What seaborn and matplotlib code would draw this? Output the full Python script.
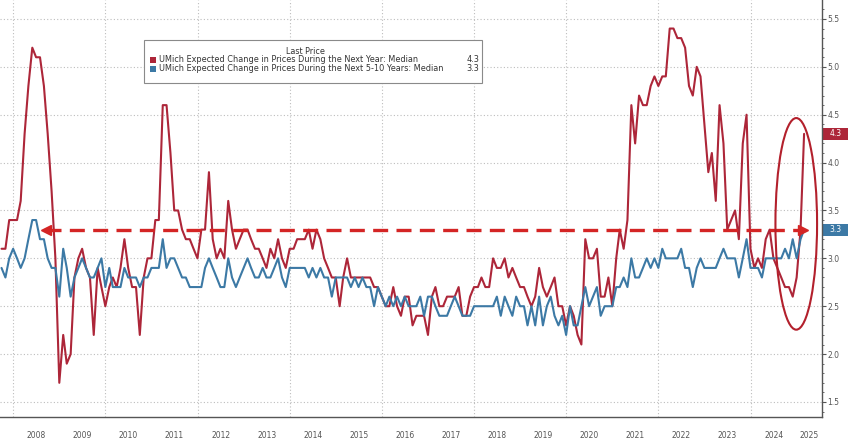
import numpy as np
import pandas as pd
import seaborn as sns
import matplotlib.pyplot as plt
from matplotlib.patches import Ellipse, Rectangle
from matplotlib.ticker import MultipleLocator, FormatStrFormatter
from matplotlib.transforms import blended_transform_factory
import matplotlib.dates as mdates

# UMich median expected price change, monthly, Sep 2007 - Feb 2025 (%)
one_year = [
    3.1, 3.1, 3.4, 3.4,
    3.4, 3.6, 4.3, 4.8, 5.2, 5.1, 5.1, 4.8, 4.3, 3.7, 3.0, 1.7,  # 2008
    2.2, 1.9, 2.0, 2.8, 3.0, 3.1, 2.9, 2.8, 2.2, 2.9, 2.7, 2.5,  # 2009
    2.7, 2.8, 2.7, 2.9, 3.2, 2.9, 2.7, 2.7, 2.2, 2.8, 3.0, 3.0,  # 2010
    3.4, 3.4, 4.6, 4.6, 4.1, 3.5, 3.5, 3.3, 3.2, 3.2, 3.1, 3.0,  # 2011
    3.3, 3.3, 3.9, 3.2, 3.0, 3.1, 3.0, 3.6, 3.3, 3.1, 3.2, 3.3,  # 2012
    3.3, 3.2, 3.1, 3.1, 3.0, 2.9, 3.1, 3.0, 3.2, 3.0, 2.9, 3.1,  # 2013
    3.1, 3.2, 3.2, 3.2, 3.3, 3.1, 3.3, 3.2, 3.0, 2.9, 2.8, 2.8,  # 2014
    2.5, 2.8, 3.0, 2.8, 2.8, 2.8, 2.8, 2.8, 2.8, 2.7, 2.7, 2.6,  # 2015
    2.5, 2.5, 2.7, 2.5, 2.4, 2.6, 2.6, 2.3, 2.4, 2.4, 2.4, 2.2,  # 2016
    2.6, 2.7, 2.5, 2.5, 2.6, 2.6, 2.6, 2.7, 2.4, 2.4, 2.6, 2.7,  # 2017
    2.7, 2.8, 2.7, 2.7, 3.0, 2.9, 2.9, 3.0, 2.8, 2.9, 2.8, 2.7,  # 2018
    2.7, 2.6, 2.5, 2.6, 2.9, 2.7, 2.6, 2.7, 2.8, 2.5, 2.5, 2.3,  # 2019
    2.5, 2.4, 2.2, 2.1, 3.2, 3.0, 3.0, 3.1, 2.6, 2.6, 2.8, 2.5,  # 2020
    3.0, 3.3, 3.1, 3.4, 4.6, 4.2, 4.7, 4.6, 4.6, 4.8, 4.9, 4.8,  # 2021
    4.9, 4.9, 5.4, 5.4, 5.3, 5.3, 5.2, 4.8, 4.7, 5.0, 4.9, 4.4,  # 2022
    3.9, 4.1, 3.6, 4.6, 4.2, 3.3, 3.4, 3.5, 3.2, 4.2, 4.5, 3.1,  # 2023
    2.9, 3.0, 2.9, 3.2, 3.3, 3.0, 2.9, 2.8, 2.7, 2.7, 2.6, 2.8,  # 2024
    3.3, 4.3,                                                    # 2025
]
five_ten = [
    2.9, 2.8, 3.0, 3.1,
    3.0, 2.9, 3.0, 3.2, 3.4, 3.4, 3.2, 3.2, 3.0, 2.9, 2.9, 2.6,  # 2008
    3.1, 2.9, 2.6, 2.8, 2.9, 3.0, 2.9, 2.8, 2.8, 2.9, 3.0, 2.7,  # 2009
    2.9, 2.7, 2.7, 2.7, 2.9, 2.8, 2.8, 2.8, 2.7, 2.8, 2.8, 2.9,  # 2010
    2.9, 2.9, 3.2, 2.9, 3.0, 3.0, 2.9, 2.8, 2.8, 2.7, 2.7, 2.7,  # 2011
    2.7, 2.9, 3.0, 2.9, 2.8, 2.7, 2.7, 3.0, 2.8, 2.7, 2.8, 2.9,  # 2012
    3.0, 2.9, 2.8, 2.8, 2.9, 2.8, 2.8, 2.9, 3.0, 2.8, 2.7, 2.9,  # 2013
    2.9, 2.9, 2.9, 2.9, 2.8, 2.9, 2.8, 2.9, 2.8, 2.8, 2.6, 2.8,  # 2014
    2.8, 2.8, 2.8, 2.7, 2.8, 2.7, 2.8, 2.7, 2.7, 2.5, 2.7, 2.6,  # 2015
    2.5, 2.6, 2.5, 2.6, 2.5, 2.6, 2.5, 2.5, 2.5, 2.6, 2.4, 2.6,  # 2016
    2.6, 2.5, 2.4, 2.4, 2.4, 2.5, 2.6, 2.5, 2.4, 2.4, 2.4, 2.5,  # 2017
    2.5, 2.5, 2.5, 2.5, 2.5, 2.6, 2.4, 2.6, 2.5, 2.4, 2.6, 2.5,  # 2018
    2.5, 2.3, 2.5, 2.3, 2.6, 2.3, 2.5, 2.6, 2.4, 2.3, 2.4, 2.2,  # 2019
    2.5, 2.3, 2.3, 2.5, 2.7, 2.5, 2.6, 2.7, 2.4, 2.5, 2.5, 2.5,  # 2020
    2.7, 2.7, 2.8, 2.7, 3.0, 2.8, 2.8, 2.9, 3.0, 2.9, 3.0, 2.9,  # 2021
    3.1, 3.0, 3.0, 3.0, 3.0, 3.1, 2.9, 2.9, 2.7, 2.9, 3.0, 2.9,  # 2022
    2.9, 2.9, 2.9, 3.0, 3.1, 3.0, 3.0, 3.0, 2.8, 3.0, 3.2, 2.9,  # 2023
    2.9, 2.9, 2.8, 3.0, 3.0, 3.0, 3.0, 3.0, 3.1, 3.0, 3.2, 3.0,  # 2024
    3.2, 3.3,                                                    # 2025
]
year_labels = [str(y) for y in range(2008, 2026)]
last_one_year = 4.3
last_five_ten = 3.3

RED = '#ad2639'
BLUE = '#3c79a5'
GREY = '#555555'

# monthly values plotted at month end
dates = pd.date_range('2007-09-30', periods=len(one_year), freq='ME')
df = pd.DataFrame({'date': dates, 'one_year': one_year, 'five_ten': five_ten})

sns.set_style('white')
fig = plt.figure(figsize=(8.48, 4.42), dpi=100)
ax = fig.add_axes([0, 25 / 442, 822 / 848, 417 / 442])

sns.lineplot(data=df, x='date', y='one_year', color=RED, lw=1.5, ax=ax)
sns.lineplot(data=df, x='date', y='five_ten', color=BLUE, lw=1.5, ax=ax)

x_left, x_right = pd.Timestamp('2007-09-18'), pd.Timestamp('2025-07-20')
ax.set_xlim(x_left, x_right)
ax.set_ylim(1.343, 5.698)
ax.set_xlabel('')
ax.set_ylabel('')

# right-hand y axis
ax.yaxis.tick_right()
ax.yaxis.set_major_locator(MultipleLocator(0.5))
ax.yaxis.set_minor_locator(MultipleLocator(0.1))
ax.yaxis.set_major_formatter(FormatStrFormatter('%.1f'))
ax.tick_params(axis='y', which='major', right=True, length=3, width=0.8,
               color=GREY, labelsize=5.5, labelcolor=GREY, pad=1)
ax.tick_params(axis='y', which='minor', right=True, length=1.5, width=0.6, color=GREY)
ax.grid(axis='y', which='major', color='#bdbdbd', linestyle=(0, (1, 2)), lw=0.8)

# x axis: year separators below, dotted grid every two years
year_starts = [pd.Timestamp(f'{y}-01-01') for y in year_labels]
ax.set_xticks(year_starts)
ax.set_xticklabels([])
ax.tick_params(axis='x', which='major', length=18, width=0.8, color='#9a9a9a', direction='out')
for ys in year_starts[::2]:
    ax.axvline(ys, color='#bdbdbd', linestyle=(0, (1, 2)), lw=0.8, zorder=0)

edges = year_starts + [x_right]
trans_x = blended_transform_factory(ax.transData, ax.transAxes)
for lab, a, b in zip(year_labels, edges[:-1], edges[1:]):
    ax.text(a + (b - a) / 2, -0.044, lab, transform=trans_x, ha='center', va='center',
            fontsize=5.5, color=GREY)

for s in ['top', 'left']:
    ax.spines[s].set_visible(False)
for s in ['right', 'bottom']:
    ax.spines[s].set_color(GREY)
    ax.spines[s].set_linewidth(1.0)

# dashed red double arrow at the latest 5-10 year level
a0, a1 = pd.Timestamp('2008-09-20'), pd.Timestamp('2025-02-20')
ax.plot([a0, a1], [last_five_ten, last_five_ten], color='#d42525', lw=2.4,
        dashes=(4.5, 2.5), zorder=4)
ax.plot([a0], [last_five_ten], marker='<', color='#d42525', ms=7, zorder=4)
ax.plot([a1], [last_five_ten], marker='>', color='#d42525', ms=7, zorder=4)

# highlight ellipse around the latest spike
ecx = mdates.date2num(pd.Timestamp('2024-12-28'))
ax.add_patch(Ellipse((ecx, 3.36), width=330, height=2.21, fill=False,
                     edgecolor='#b3202c', lw=1.5, zorder=5, clip_on=False))

# last-value tags on the right
trans_fy = blended_transform_factory(fig.transFigure, ax.transData)
for val, col in [(last_one_year, RED), (last_five_ten, BLUE)]:
    h = 12 / 95.75
    ax.add_patch(Rectangle((823 / 848, val - h / 2), 25 / 848, h, transform=trans_fy,
                           facecolor=col, edgecolor='none', clip_on=False))
    ax.text(835.5 / 848, val, f'{val:.1f}', transform=trans_fy, ha='center', va='center',
            fontsize=5.5, color='white')

# legend box
def fx(px):
    return px / 848


def fy(py):
    return 1 - py / 442


fig.patches.append(Rectangle((fx(144), fy(83)), fx(338), 43 / 442, transform=fig.transFigure,
                             facecolor='white', edgecolor='#8a8a8a', lw=0.8, zorder=10))
fig.text(fx(305), fy(51), 'Last Price', ha='center', va='center', fontsize=5.8,
         color='#333333', zorder=11)
rows = [
    ('UMich Expected Change in Prices During the Next Year: Median', last_one_year, RED, 60),
    ('UMich Expected Change in Prices During the Next 5-10 Years: Median', last_five_ten, BLUE, 68.5),
]
for lab, val, col, py in rows:
    fig.patches.append(Rectangle((fx(150), fy(py + 3)), fx(6), 6 / 442, transform=fig.transFigure,
                                 facecolor=col, edgecolor='none', zorder=11))
    fig.text(fx(159), fy(py), lab, ha='left', va='center', fontsize=5.9, color='#333333', zorder=11)
    fig.text(fx(479), fy(py), f'{val:.1f}', ha='right', va='center', fontsize=5.9,
             color='#333333', zorder=11)

fig.savefig('out.png', dpi=100)
